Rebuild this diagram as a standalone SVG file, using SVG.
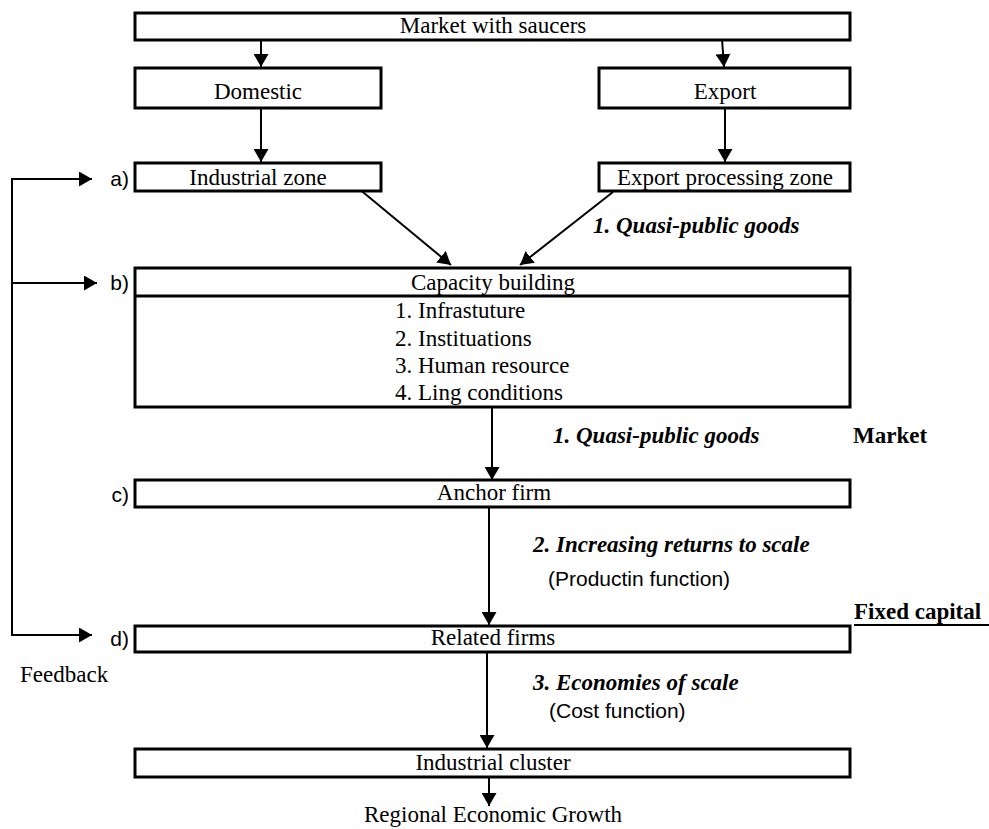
<svg xmlns="http://www.w3.org/2000/svg" width="989" height="829" viewBox="0 0 989 829">
<style>
.box{fill:#fff;stroke:#000;stroke-width:3}
.ln{fill:none;stroke:#000;stroke-width:2}
.t{font-family:"Liberation Serif","Times New Roman",serif;font-size:23px;fill:#000}
.c{text-anchor:middle}
.bi{font-family:"Liberation Serif","Times New Roman",serif;font-size:23px;font-weight:bold;font-style:italic;fill:#000}
.b{font-family:"Liberation Serif","Times New Roman",serif;font-size:23px;font-weight:bold;fill:#000}
.a{font-family:"Liberation Sans",Arial,sans-serif;font-size:21px;fill:#000}
</style>
<defs>
<marker id="ah" markerWidth="14" markerHeight="15" refX="13" refY="7.5" orient="auto" markerUnits="userSpaceOnUse">
<path d="M0,0 L13,7.5 L0,15 Z" fill="#000"/>
</marker>
</defs>
<rect width="989" height="829" fill="#fff"/>
<g id="connectors">
<line class="ln" x1="261" y1="41" x2="261" y2="67" marker-end="url(#ah)"/>
<line class="ln" x1="722" y1="39" x2="724" y2="67" marker-end="url(#ah)"/>
<line class="ln" x1="261" y1="109" x2="261" y2="162" marker-end="url(#ah)"/>
<line class="ln" x1="725" y1="109" x2="725" y2="162" marker-end="url(#ah)"/>
<line class="ln" x1="358" y1="188" x2="451" y2="265" marker-end="url(#ah)"/>
<line class="ln" x1="613" y1="192" x2="520" y2="265" marker-end="url(#ah)"/>
<line class="ln" x1="492" y1="408" x2="492" y2="480" marker-end="url(#ah)"/>
<line class="ln" x1="489" y1="508" x2="489" y2="625" marker-end="url(#ah)"/>
<line class="ln" x1="487" y1="653" x2="487" y2="748" marker-end="url(#ah)"/>
<line class="ln" x1="489" y1="778" x2="489" y2="806" marker-end="url(#ah)"/>
<g id="feedback">
<polyline class="ln" points="92,179 12,179 12,635 92,635" marker-end="url(#ah)"/>
<line class="ln" x1="12" y1="179" x2="92" y2="179" marker-end="url(#ah)"/>
<line class="ln" x1="12" y1="283" x2="97" y2="283" marker-end="url(#ah)"/>
</g>
</g>
<g id="market">
<rect class="box" x="135" y="13" width="715" height="27"/>
<text class="t c" x="493" y="33">Market with saucers</text>
</g>
<g id="domestic">
<rect class="box" x="135" y="68" width="246" height="40"/>
<text class="t c" x="258" y="99">Domestic</text>
</g>
<g id="export">
<rect class="box" x="599" y="68" width="251" height="40"/>
<text class="t c" x="725" y="99">Export</text>
</g>
<g id="industrial-zone">
<text class="a" x="129" y="186" text-anchor="end">a)</text>
<rect class="box" x="135" y="163" width="246" height="28"/>
<text class="t c" x="258" y="185">Industrial zone</text>
</g>
<g id="export-processing-zone">
<rect class="box" x="599" y="163" width="251" height="28"/>
<text class="t c" x="725" y="185">Export processing zone</text>
</g>
<text class="bi" x="593" y="233">1. Quasi-public goods</text>
<g id="capacity-building">
<text class="a" x="129" y="290" text-anchor="end">b)</text>
<rect class="box" x="135" y="268" width="715" height="139"/>
<line class="ln" x1="135" y1="296" x2="850" y2="296" style="stroke-width:3"/>
<text class="t c" x="493" y="290">Capacity building</text>
<text class="t" x="395" y="318">1. Infrastuture</text>
<text class="t" x="395" y="346">2. Instituations</text>
<text class="t" x="395" y="373">3. Human resource</text>
<text class="t" x="395" y="400">4. Ling conditions</text>
</g>
<text class="bi" x="553" y="443">1. Quasi-public goods</text>
<text class="b" x="853" y="443">Market</text>
<g id="anchor-firm">
<text class="a" x="129" y="502" text-anchor="end">c)</text>
<rect class="box" x="135" y="480" width="715" height="27"/>
<text class="t c" x="494" y="500">Anchor firm</text>
</g>
<text class="bi" x="533" y="552">2. Increasing returns to scale</text>
<text class="a" x="548" y="586">(Productin function)</text>
<text class="b" x="854" y="619">Fixed capital</text>
<line x1="854" y1="625" x2="989" y2="625" stroke="#000" stroke-width="2"/>
<g id="related-firms">
<text class="a" x="129" y="646" text-anchor="end">d)</text>
<rect class="box" x="135" y="626" width="715" height="26"/>
<text class="t c" x="493" y="645">Related firms</text>
</g>
<text class="t" x="20" y="682">Feedback</text>
<text class="bi" x="533" y="690">3. Economies of scale</text>
<text class="a" x="549" y="718">(Cost function)</text>
<g id="industrial-cluster">
<rect class="box" x="135" y="749" width="715" height="28"/>
<text class="t c" x="493" y="770">Industrial cluster</text>
</g>
<text class="t c" x="493" y="822">Regional Economic Growth</text>
</svg>
